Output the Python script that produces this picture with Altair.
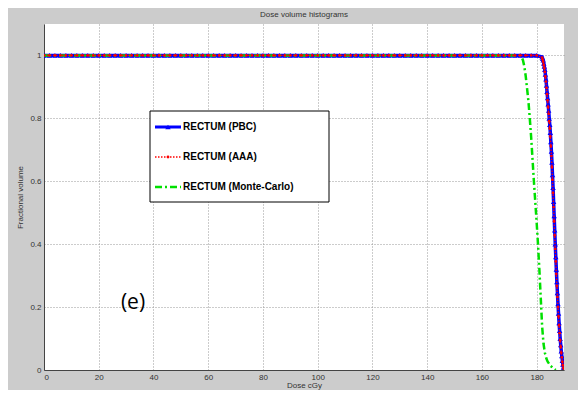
import altair as alt
import numpy as np
import pandas as pd

names = ["RECTUM (PBC)", "RECTUM (AAA)", "RECTUM (Monte-Carlo)"]
colors = ["#0000ff", "#ff0000", "#00e000"]
dashes = [[1, 0], [1.5, 1.5], [7, 3, 2, 3]]
widths = [3.5, 1.3, 2.5]

x_ticks = [0, 20, 40, 60, 80, 100, 120, 140, 160, 180]
y_ticks = [0, 0.2, 0.4, 0.6, 0.8, 1.0]

# flat plateau (volume = 1) sampled every 2 cGy
flat_dose = list(range(0, 182, 2))
# fall-off region, sampled every 0.2 cGy
drop_dose = [round(v, 1) for v in np.arange(182.0, 190.01, 0.2)]
pbc_drop = [0.995, 0.99, 0.985, 0.975, 0.965, 0.955, 0.94, 0.925, 0.905, 0.885,
            0.865, 0.845, 0.825, 0.80, 0.78, 0.755, 0.725, 0.695, 0.66, 0.62,
            0.58, 0.535, 0.49, 0.445, 0.40, 0.36, 0.32, 0.28, 0.245, 0.21,
            0.18, 0.15, 0.125, 0.10, 0.08, 0.06, 0.045, 0.03, 0.018, 0.008, 0.0]
aaa_drop = [0.993, 0.987, 0.98, 0.97, 0.96, 0.948, 0.933, 0.917, 0.897, 0.877,
            0.857, 0.836, 0.815, 0.79, 0.768, 0.742, 0.712, 0.68, 0.645, 0.605,
            0.563, 0.518, 0.473, 0.428, 0.385, 0.345, 0.305, 0.267, 0.232, 0.2,
            0.17, 0.142, 0.117, 0.094, 0.074, 0.055, 0.04, 0.026, 0.015, 0.006, 0.0]
mc_flat_dose = list(range(0, 174, 2))
mc_dose = [174.0, 174.5, 175.0, 175.5, 176.0, 176.5, 177.0, 177.5, 178.0, 178.5,
           179.0, 179.5, 180.0, 180.5, 181.0, 181.5, 182.0, 182.5, 183.0, 183.5,
           184.0, 185.0, 186.0, 187.0]
mc_vol = [1.0, 0.995, 0.985, 0.965, 0.935, 0.895, 0.855, 0.80, 0.74, 0.67,
          0.60, 0.535, 0.47, 0.40, 0.32, 0.23, 0.14, 0.085, 0.055, 0.038,
          0.027, 0.014, 0.006, 0.0]

rows = []
for d in flat_dose:
    rows.append((names[0], d, 1.0))
for d, v in zip(drop_dose, pbc_drop):
    rows.append((names[0], d, v))
for d in flat_dose:
    rows.append((names[1], d, 1.0))
for d, v in zip(drop_dose, aaa_drop):
    rows.append((names[1], d, v))
for d in mc_flat_dose:
    rows.append((names[2], d, 1.0))
for d, v in zip(mc_dose, mc_vol):
    rows.append((names[2], d, v))
df = pd.DataFrame(rows, columns=["series", "dose", "volume"])
df["idx"] = range(len(df))

FONT = "Liberation Sans Narrow, Liberation Sans, Arial, sans-serif"

xenc = alt.X("dose:Q", scale=alt.Scale(domain=[0, 190], nice=False, zero=False),
             axis=alt.Axis(values=x_ticks, title="Dose cGy", labelPadding=3, titlePadding=0))
yenc = alt.Y("volume:Q", scale=alt.Scale(domain=[0, 1.1], nice=False),
             axis=alt.Axis(values=y_ticks, format="~g", title="Fractional volume",
                           labelPadding=3, titlePadding=5))


def series_line(i):
    return alt.Chart(df).transform_filter(alt.datum.series == names[i]).mark_line(
        clip=True, color=colors[i], strokeDash=dashes[i], strokeWidth=widths[i]
    ).encode(x=xenc, y=yenc, order="idx:Q")


pbc_line = series_line(0)
aaa_line = series_line(1)
mc_line = series_line(2)
pbc_pts = alt.Chart(df).transform_filter(alt.datum.series == names[0]).mark_point(
    filled=True, opacity=1, size=30, shape="triangle-up", color=colors[0], clip=True
).encode(x=xenc, y=yenc)
aaa_pts = alt.Chart(df).transform_filter(alt.datum.series == names[1]).mark_point(
    filled=True, opacity=1, size=8, shape="circle", color=colors[1], clip=True
).encode(x=xenc, y=yenc)

# ---- legend box (drawn by hand, MATLAB style) ----
leg_df = pd.DataFrame({"series": names})
LX0, LX1, LY0, LY1 = 106, 285, 87, 178
SX0, SX1, TX = 111, 137, 139
row_y = [103, 133, 163]

legend_layers = [
    alt.Chart(leg_df).transform_filter(alt.datum.series == names[0]).mark_rect(
        fill="white", stroke="black", strokeWidth=1
    ).encode(x=alt.value(LX0), x2=alt.value(LX1), y=alt.value(LY0), y2=alt.value(LY1))
]
for i, name in enumerate(names):
    sub = alt.Chart(leg_df).transform_filter(alt.datum.series == name)
    legend_layers.append(
        sub.mark_rule(color=colors[i], strokeDash=dashes[i], strokeWidth=min(widths[i], 3)).encode(
            x=alt.value(SX0), x2=alt.value(SX1), y=alt.value(row_y[i]))
    )
    if i == 0:
        legend_layers.append(sub.mark_point(filled=True, opacity=1, size=30, shape="triangle-up",
                                            color=colors[0]).encode(
            x=alt.value((SX0 + SX1) / 2), y=alt.value(row_y[i])))
    if i == 1:
        legend_layers.append(sub.mark_point(filled=True, opacity=1, size=8, shape="circle",
                                            color=colors[1]).encode(
            x=alt.value((SX0 + SX1) / 2), y=alt.value(row_y[i])))
    legend_layers.append(
        sub.mark_text(font="Liberation Sans", fontWeight="bold", fontSize=10, color="black",
                      align="left", baseline="middle").encode(
            x=alt.value(TX), y=alt.value(row_y[i]), text="series:N")
    )

label = alt.Chart(leg_df).transform_filter(alt.datum.series == names[0]).mark_text(
    text="(e)", font="Open Sans", fontSize=21, color="black", align="center", baseline="middle"
).encode(x=alt.value(89), y=alt.value(279))

chart = alt.layer(pbc_line, pbc_pts, mc_line, aaa_line, aaa_pts, *legend_layers, label).properties(
    width=520, height=346,
    autosize="none",
    padding={"left": 36, "top": 16, "right": 14, "bottom": 20},
    background="#cccccc",
    title=alt.TitleParams("Dose volume histograms", fontSize=8, font=FONT, fontWeight="normal",
                          color="#333333", offset=5, anchor="middle"),
).configure_view(fill="white", stroke=None).configure_axis(
    grid=True, gridColor="#999999", gridDash=[1, 2], gridWidth=1,
    domainColor="#444444", domainWidth=1, ticks=False,
    labelFont=FONT, labelFontSize=8, labelColor="#333333",
    titleFont=FONT, titleFontSize=8, titleColor="#333333", titleFontWeight="normal",
)

chart.save("out.html", embed_options={"renderer": "svg", "actions": False})
